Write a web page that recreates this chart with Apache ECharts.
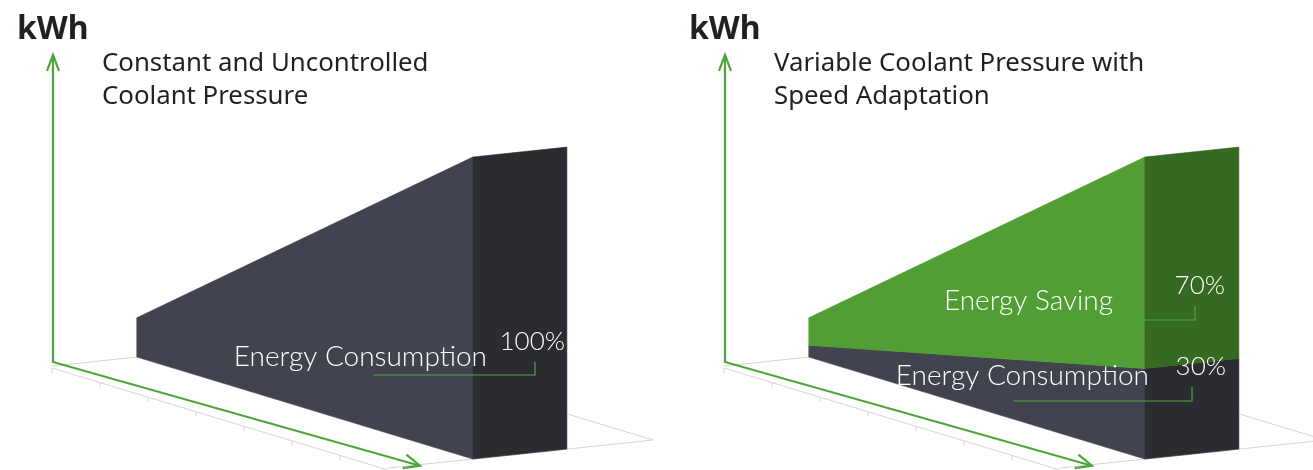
<!DOCTYPE html>
<html>
<head>
<meta charset="utf-8">
<script src="https://cdn.jsdelivr.net/npm/echarts@6/dist/echarts.min.js"></script>
<style>
  html, body { margin: 0; padding: 0; background: #ffffff; }
  #chart { width: 1313px; height: 470px; }
</style>
</head>
<body>
<div id="chart"></div>
<script>
// ---- data ----------------------------------------------------------------
const unitLabel = 'kWh';
const panelTitles = [
  'Constant and Uncontrolled\nCoolant Pressure',
  'Variable Coolant Pressure with\nSpeed Adaptation'
];
// spindle speed steps along the floor axis (first and last)
const speedRange = [0, 7];
// floor tick positions (speed steps)
const floorTicks = [0, 1, 2, 3, 4, 5, 6, 7];
// relative coolant energy demand at the lowest and highest speed
const demandKWh = [13, 100];
// share of demand that is consumed (%) in each panel
const consumptionShare = [100, 30];
// share of demand that is saved (%) in each panel
const savingShare = [0, 70];
const segmentNames = ['Energy Consumption', 'Energy Saving'];

// ---- look & layout -------------------------------------------------------
const SLOPE = 102 / 336;          // floor run of the speed axis
const DEPTH = [265, -28];         // full floor depth vector
const BAR_D0 = 0.32, BAR_D1 = 0.675;
const GREEN = '#4fa63c';
const FLOOR = '#d6d6d6';
const FACE = {
  consumption: { front: '#41444f', side: '#2b2c31' },
  saving: { front: '#519e34', side: '#356a22' }
};
const PANEL_LEFT = [52, 724];
const NAME_FONT = '300 28px Lato, "Noto Sans", sans-serif';
const VALUE_FONT = '300 26px Lato, "Noto Sans", sans-serif';
// label placement for each drawn segment, relative to its panel's left edge
const LABEL_LAYOUT = {
  '0-consumption': { nameX: 435, nameY: 357, valX: 513, valY: 342, lx0: 321, lx1: 483, ly: 375, ly1: 362 },
  '1-consumption': { nameX: 425, nameY: 376, valX: 502, valY: 367, lx0: 289, lx1: 468, ly: 401, ly1: 387 },
  '1-saving':      { nameX: 389, nameY: 301, valX: 501, valY: 286, lx0: 311, lx1: 471, ly: 320, ly1: 306 }
};

function demandAt(s) {
  const t = (s - speedRange[0]) / (speedRange[1] - speedRange[0]);
  return demandKWh[0] + (demandKWh[1] - demandKWh[0]) * t;
}

// oblique projection on top of the cartesian scales
function project(api, s, h, d) {
  const p = api.coord([s, h]);
  const o = api.coord([speedRange[0], 0]);
  return [p[0] + d * DEPTH[0], p[1] + (p[0] - o[0]) * SLOPE + d * DEPTH[1]];
}

function arrowHead(tip, dir, len, spread) {
  const n = Math.hypot(dir[0], dir[1]);
  const ux = dir[0] / n, uy = dir[1] / n;
  const bx = tip[0] - ux * len, by = tip[1] - uy * len;
  return [[bx - uy * spread, by + ux * spread], tip, [bx + uy * spread, by - ux * spread]];
}

function renderFrame(params, api) {
  const children = [];
  const s0 = speedRange[0], s1 = speedRange[1];
  const A = project(api, s0, 0, 0);
  const B = project(api, s1, 0, 0);
  const C = project(api, s1, 0, 1);
  const D = project(api, s0, 0, 1);
  const line = (pts) => ({ type: 'polyline', shape: { points: pts }, style: { stroke: FLOOR, lineWidth: 1, fill: null } });
  children.push(line([A, D, C, B]));
  children.push(line([[A[0], A[1] + 2], [B[0], B[1] + 2]]));
  floorTicks.forEach(function (t) {
    const p = project(api, t, 0, 0);
    children.push(line([[p[0], p[1] + 2], [p[0], p[1] + 7]]));
  });
  // axis arrows
  const origin = [A[0] + 1, A[1] - 4];
  const yTop = api.coord([s0, 103]);
  const yTip = [origin[0], yTop[1]];
  const xEnd = project(api, s1 * 1.095, 0, 0);
  const xTip = [xEnd[0], xEnd[1] - 12];
  const gl = { stroke: GREEN, lineWidth: 2.2, fill: null, lineJoin: 'miter' };
  children.push({ type: 'polyline', shape: { points: [yTip, origin, xTip] }, style: gl });
  children.push({ type: 'polyline', shape: { points: arrowHead(yTip, [0, -1], 16, 6) }, style: gl });
  children.push({ type: 'polyline', shape: { points: arrowHead(xTip, [xTip[0] - origin[0], xTip[1] - origin[1]], 16, 7) }, style: gl });
  return { type: 'group', children: children };
}

function makeBarRenderer(panel) {
  return function (params, api) {
    const lo = api.value(0), hi = api.value(1);
    const kind = api.value(2) === 0 ? 'consumption' : 'saving';
    const s0 = speedRange[0], s1 = speedRange[1];
    const h0lo = demandAt(s0) * lo / 100, h0hi = demandAt(s0) * hi / 100;
    const h1lo = demandAt(s1) * lo / 100, h1hi = demandAt(s1) * hi / 100;
    const col = FACE[kind];
    const front = [
      project(api, s0, h0lo, BAR_D0), project(api, s1, h1lo, BAR_D0),
      project(api, s1, h1hi, BAR_D0), project(api, s0, h0hi, BAR_D0)
    ];
    const side = [
      project(api, s1, h1lo, BAR_D0), project(api, s1, h1lo, BAR_D1),
      project(api, s1, h1hi, BAR_D1), project(api, s1, h1hi, BAR_D0)
    ];
    const children = [
      { type: 'polygon', shape: { points: front }, style: { fill: col.front, stroke: col.front, lineWidth: 0.6 } },
      { type: 'polygon', shape: { points: side }, style: { fill: col.side, stroke: col.side, lineWidth: 0.6 } }
    ];
    const lay = LABEL_LAYOUT[panel + '-' + kind];
    if (lay) {
      const ox = PANEL_LEFT[panel];
      children.push({ type: 'polyline', z2: 5,
        shape: { points: [[ox + lay.lx0, lay.ly], [ox + lay.lx1, lay.ly], [ox + lay.lx1, lay.ly1]] },
        style: { stroke: GREEN, lineWidth: 1.2, fill: null } });
      children.push({ type: 'text', z2: 6, style: {
        text: segmentNames[api.value(2)], x: ox + lay.nameX, y: lay.nameY,
        align: 'right', verticalAlign: 'middle', fill: '#ffffff', font: NAME_FONT } });
      children.push({ type: 'text', z2: 6, style: {
        text: Math.round(hi - lo) + '%', x: ox + lay.valX, y: lay.valY,
        align: 'right', verticalAlign: 'middle', fill: '#ffffff', font: VALUE_FONT } });
    }
    return { type: 'group', children: children };
  };
}

// segment rows per panel: [lower %, upper %, kind]
function panelSegments(p) {
  const rows = [[0, consumptionShare[p], 0]];
  if (savingShare[p] > 0) rows.push([consumptionShare[p], consumptionShare[p] + savingShare[p], 1]);
  return rows;
}

const chart = echarts.init(document.getElementById('chart'), null, { renderer: 'canvas' });
const grids = PANEL_LEFT.map(function (l) {
  return { left: l, width: 336, top: 64, height: 302 };
});
const axisOff = { show: false };
const series = [];
[0, 1].forEach(function (p) {
  series.push({ type: 'custom', xAxisIndex: p, yAxisIndex: p, z: 1, silent: true,
    data: [[0, 0, 0]], renderItem: renderFrame });
  series.push({ type: 'custom', xAxisIndex: p, yAxisIndex: p, z: 2, silent: true,
    data: panelSegments(p), renderItem: makeBarRenderer(p) });
});

chart.setOption({
  animation: false,
  backgroundColor: '#ffffff',
  grid: grids,
  xAxis: grids.map(function (g, i) {
    return Object.assign({ type: 'value', gridIndex: i, min: speedRange[0], max: speedRange[1] }, axisOff);
  }),
  yAxis: grids.map(function (g, i) {
    return Object.assign({ type: 'value', gridIndex: i, min: 0, max: 100 }, axisOff);
  }),
  title: [0, 1].flatMap(function (p) {
    return [
      { text: unitLabel, left: PANEL_LEFT[p] - 35, top: 14, padding: 0,
        textStyle: { fontFamily: '"Noto Sans", sans-serif', fontWeight: 'bold', fontSize: 32, color: '#231f20' } },
      { text: panelTitles[p], left: PANEL_LEFT[p] + 50, top: 47, padding: 0,
        textStyle: { fontFamily: '"Noto Sans", sans-serif', fontWeight: 'normal', fontSize: 25.8, lineHeight: 33, color: '#231f20' } }
    ];
  }),
  series: series
});
</script>
</body>
</html>
